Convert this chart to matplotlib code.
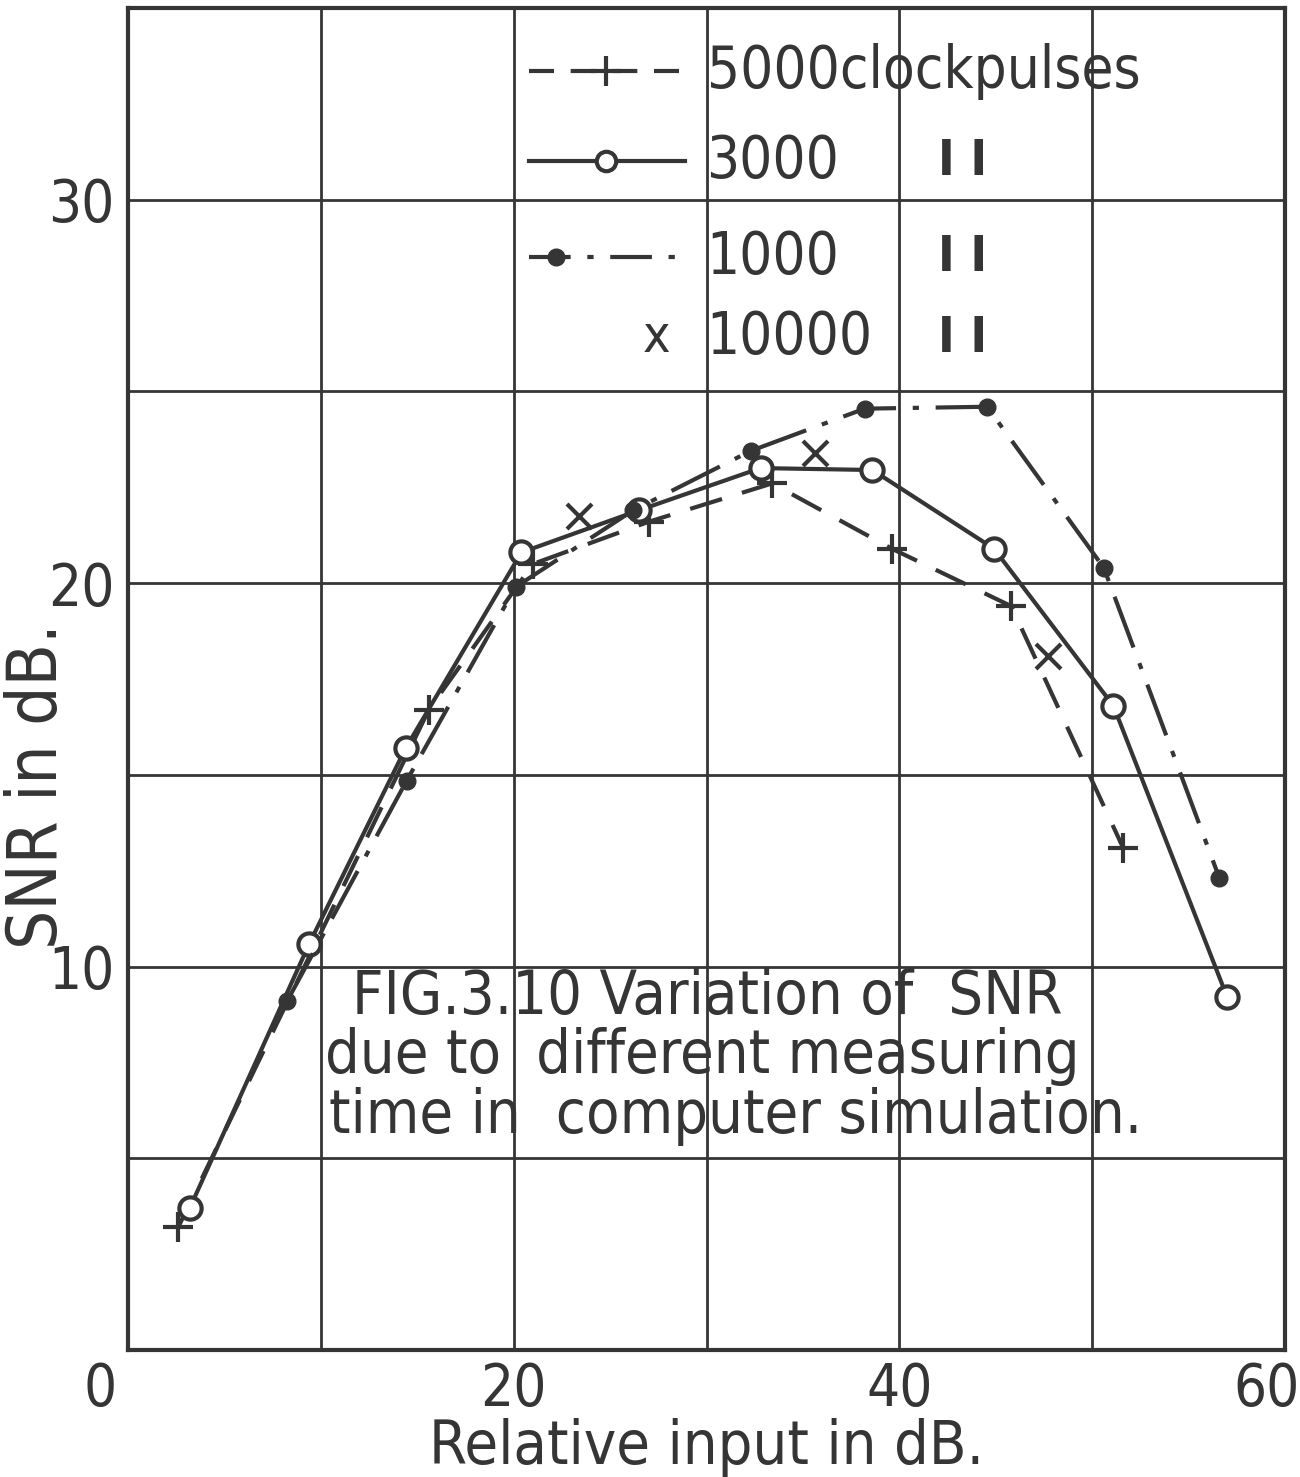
import matplotlib
matplotlib.use("Agg")
import matplotlib.pyplot as plt
import matplotlib.font_manager as fm
from matplotlib.transforms import ScaledTranslation

# the scan uses a narrow stencil lettering: take a condensed face if one exists
narrow = [f.name for f in fm.fontManager.ttflist
          if "Narrow" in f.name or "Condensed" in f.name
          or f.stretch in ("condensed", "semi-condensed")]
FONT = narrow[0] if narrow else "DejaVu Sans"
plt.rcParams['font.family'] = [FONT, 'DejaVu Sans']
if narrow:
    plt.rcParams['font.stretch'] = 'condensed'
W = 1.1 if narrow else 1.0   # bigger type when the face is narrow

INK = "#353535"

# 5000 clock pulses  (dashed, +)
x5000 = [2.6, 15.6, 21.0, 27.0, 33.4, 39.6, 45.8, 51.6]
y5000 = [3.2, 16.7, 20.5, 21.6, 22.6, 20.9, 19.4, 13.1]
# 3000 clock pulses  (solid, o)
x3000 = [3.2, 9.4, 14.4, 20.4, 26.5, 32.8, 38.6, 44.9, 51.1, 57.0]
y3000 = [3.7, 10.6, 15.7, 20.8, 21.9, 23.0, 22.95, 20.9, 16.8, 9.2]
# 1000 clock pulses  (dash-dot, filled dot)
x1000 = [8.25, 14.45, 20.1, 26.2, 32.3, 38.2, 44.55, 50.6, 56.6]
y1000 = [9.1, 14.85, 19.9, 21.9, 23.45, 24.55, 24.6, 20.4, 12.3]
# 10000 clock pulses (x only)
x10000 = [23.4, 35.6, 47.7]
y10000 = [21.75, 23.4, 18.1]

legend_rows = ["5000clockpulses", "3000", "1000", "10000"]
caption = ["FIG.3.10 Variation of  SNR",
           "due to  different measuring",
           "time in  computer simulation."]

fig = plt.figure(figsize=(13, 14.77), dpi=100)
ax = fig.add_axes([0.0985, 0.086, 0.89, 0.9086])

ax.plot(x5000, y5000, color=INK, lw=3, dashes=(8, 5), marker="+",
        ms=22, mew=3)
ax.plot(x3000, y3000, color=INK, lw=3, marker="o", ms=16, mfc="white",
        mew=3)
ax.plot(x1000, y1000, color=INK, lw=3, dashes=(13, 4, 1.5, 4), marker="o",
        ms=12)
ax.plot(x10000, y10000, ls="none", color=INK, marker="x", ms=18, mew=3)

ax.set_xlim(0, 60)
ax.set_ylim(0, 35)
ax.set_xticks(range(0, 61, 10))
ax.set_yticks(range(0, 36, 5))
ax.set_xticklabels(["0", "", "20", "", "40", "", "60"])
ax.set_yticklabels(["", "", "10", "", "20", "", "30", ""])
ax.tick_params(length=0, labelsize=38 * W, colors=INK)
ax.tick_params(axis="y", pad=10)
ax.tick_params(axis="x", pad=8)
ax.grid(True, color=INK, lw=2)
ax.set_axisbelow(True)
for s in ax.spines.values():
    s.set_linewidth(3)
    s.set_color(INK)

# the corner "0" and the "60" sit a little left of their grid lines
xl = ax.get_xticklabels()
xl[0].set_transform(xl[0].get_transform() +
                    ScaledTranslation(-0.28, 0, fig.dpi_scale_trans))
xl[-1].set_transform(xl[-1].get_transform() +
                     ScaledTranslation(-0.18, 0, fig.dpi_scale_trans))

ax.set_xlabel("Relative input in dB.", fontsize=40 * W, color=INK)
ax.xaxis.set_label_coords(0.5, -0.073)
ax.xaxis.label.set_va("center")
ax.set_ylabel("SNR in dB.", fontsize=45 * W, color=INK)
ax.yaxis.set_label_coords(-0.078, 0.42)
ax.yaxis.label.set_va("center")

# hand-drawn legend
ly = [33.35, 31.0, 28.5, 26.4]
ax.plot([20.8, 28.9], [ly[0]] * 2, color=INK, lw=3, dashes=(6, 4))
ax.plot([24.8], [ly[0]], color=INK, marker="+", ms=22, mew=3)
ax.plot([20.8, 28.9], [ly[1]] * 2, color=INK, lw=3)
ax.plot([24.8], [ly[1]], color=INK, marker="o", ms=14, mfc="white", mew=3)
ax.plot([20.8, 28.9], [ly[2]] * 2, color=INK, lw=3, dashes=(10, 4, 1.5, 4))
ax.plot([22.2], [ly[2]], color=INK, marker="o", ms=12)
ax.text(27.4, ly[3], "x", fontsize=34 * W, color=INK, ha="center",
        va="center")
for row, lab in zip(ly, legend_rows):
    ax.text(30.0, row, lab, fontsize=38 * W, color=INK, ha="left",
            va="center")
# ditto marks
for row in ly[1:]:
    ax.text(43.3, row, "I I", fontsize=36, color=INK, ha="center",
            va="center", fontweight="bold")

# caption inside plot
cap_x = [11.6, 10.2, 10.4]
cap_y = [9.2, 7.65, 6.1]
for cx, cy, line in zip(cap_x, cap_y, caption):
    ax.text(cx, cy, line, fontsize=40 if not narrow else 44, color=INK,
            ha="left", va="center")

fig.savefig("out.png", dpi=100, facecolor="white")
